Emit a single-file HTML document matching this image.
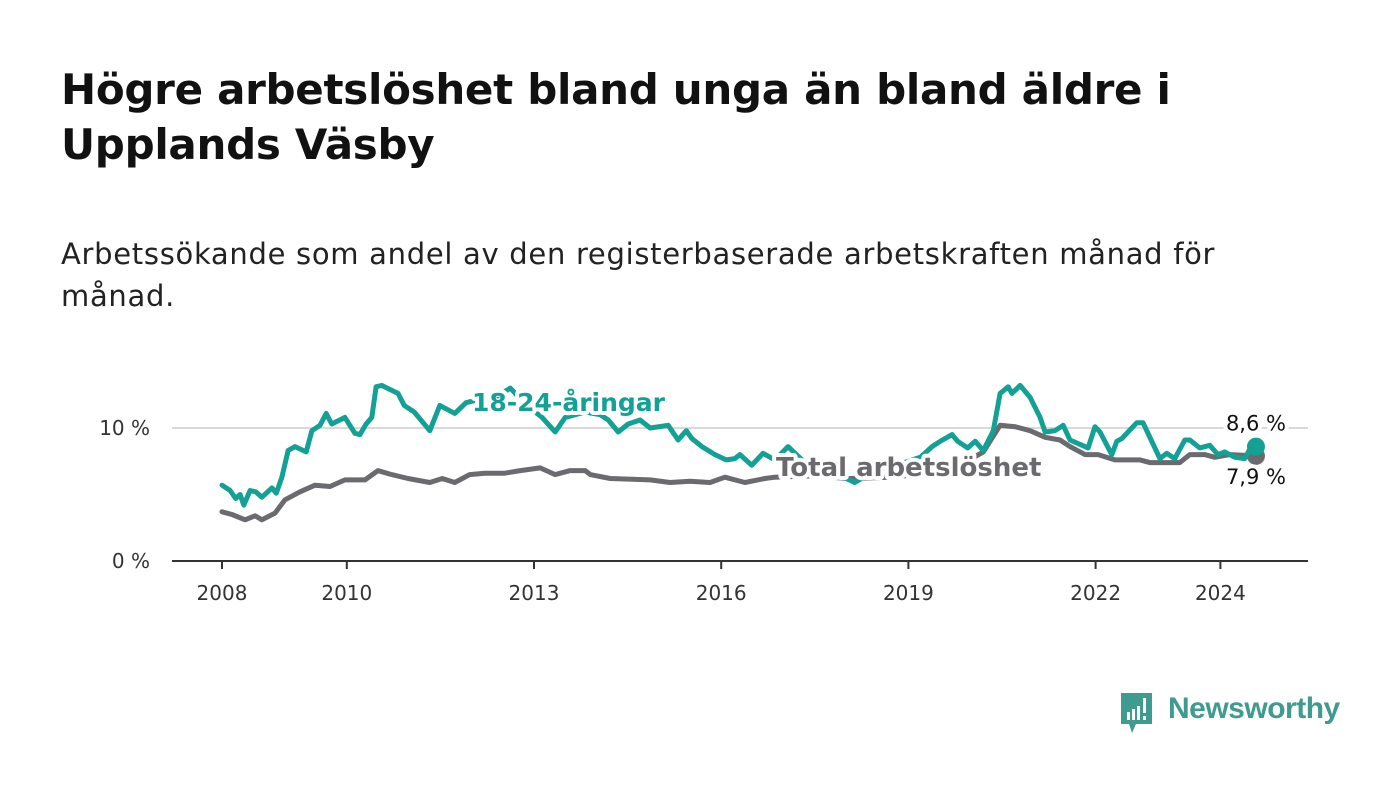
<!DOCTYPE html>
<html><head><meta charset="utf-8">
<style>
body{margin:0;background:#fff;font-family:"DejaVu Sans","Liberation Sans",sans-serif;}
#wrap{position:relative;width:1400px;height:794px;overflow:hidden;}
h1{position:absolute;left:61px;top:62px;margin:0;font-size:42px;line-height:55px;font-weight:bold;color:#111;width:1200px;letter-spacing:-0.3px;}
p.sub{position:absolute;left:61px;top:233px;margin:0;font-size:29px;line-height:42px;color:#222;width:1220px;letter-spacing:0.7px;}
svg{position:absolute;left:0;top:0;}
.lbl{paint-order:stroke;stroke:#fff;stroke-width:8px;stroke-linejoin:round;}
</style></head><body>
<div id="wrap">
<h1>Högre arbetslöshet bland unga än bland äldre i Upplands Väsby</h1>
<p class="sub">Arbetssökande som andel av den registerbaserade arbetskraften månad för månad.</p>
<svg id="chart" width="1400" height="794"></svg>
<div style="position:absolute;left:1119px;top:692px;">
<svg width="36" height="44" style="position:absolute;left:0;top:0">
<path d="M2 1 H33 V32 H17 L13 41 L10 32 H2 Z" fill="#3f9a8f"/>
<rect x="8" y="20" width="3" height="8" fill="#fff"/><rect x="13" y="17" width="3" height="11" fill="#fff"/><rect x="18" y="14" width="3" height="14" fill="#fff"/><rect x="24" y="6" width="3" height="15" fill="#fff"/><rect x="24" y="24" width="3" height="4" fill="#fff"/>
</svg>
<div style="position:absolute;left:49px;top:0px;font-family:'Liberation Sans',sans-serif;font-size:30px;color:#3f9a8f;font-weight:bold;letter-spacing:-0.5px;white-space:nowrap">Newsworthy</div>
</div>
</div>
<script>
const youthYears=[2008.00,2008.13,2008.22,2008.29,2008.35,2008.45,2008.54,2008.64,2008.80,2008.87,2008.96,2009.06,2009.17,2009.35,2009.44,2009.57,2009.67,2009.76,2009.97,2010.13,2010.21,2010.31,2010.40,2010.47,2010.56,2010.82,2010.92,2011.08,2011.33,2011.49,2011.73,2011.91,2012.17,2012.41,2012.62,2012.86,2013.13,2013.34,2013.50,2013.82,2014.06,2014.19,2014.35,2014.51,2014.70,2014.86,2015.15,2015.31,2015.44,2015.53,2015.69,2015.90,2016.08,2016.22,2016.30,2016.49,2016.67,2016.86,2017.07,2017.34,2017.74,2018.14,2018.46,2018.87,2019.19,2019.38,2019.51,2019.70,2019.79,2019.95,2020.07,2020.20,2020.36,2020.47,2020.60,2020.66,2020.79,2020.95,2021.11,2021.19,2021.35,2021.48,2021.59,2021.88,2021.99,2022.07,2022.26,2022.34,2022.42,2022.66,2022.76,2023.03,2023.14,2023.27,2023.43,2023.51,2023.67,2023.83,2023.96,2024.07,2024.23,2024.39,2024.47,2024.57];
const youthValues=[5.7,5.3,4.7,5.0,4.2,5.3,5.2,4.8,5.5,5.1,6.3,8.3,8.6,8.2,9.8,10.2,11.1,10.3,10.8,9.6,9.5,10.3,10.8,13.1,13.2,12.6,11.7,11.2,9.8,11.7,11.1,11.9,12.2,12.4,13.0,11.8,10.8,9.7,10.8,11.2,11.0,10.6,9.7,10.3,10.6,10.0,10.2,9.1,9.8,9.2,8.6,8.0,7.6,7.7,8.0,7.2,8.1,7.6,8.6,7.4,6.8,5.9,6.8,7.3,7.8,8.6,9.0,9.5,9.0,8.5,9.0,8.3,9.8,12.6,13.1,12.6,13.2,12.3,10.8,9.7,9.8,10.2,9.1,8.5,10.1,9.7,8.0,9.0,9.2,10.4,10.4,7.7,8.1,7.7,9.1,9.1,8.5,8.7,8.0,8.2,7.8,7.7,8.4,8.6];
const totalYears=[2008.00,2008.16,2008.37,2008.53,2008.64,2008.85,2009.01,2009.25,2009.49,2009.73,2009.97,2010.29,2010.50,2010.72,2010.98,2011.33,2011.53,2011.73,2011.97,2012.21,2012.53,2012.78,2013.10,2013.34,2013.58,2013.82,2013.90,2014.22,2014.86,2015.18,2015.50,2015.82,2016.06,2016.38,2016.70,2016.86,2017.42,2018.06,2018.71,2019.35,2019.83,2020.20,2020.47,2020.71,2020.95,2021.19,2021.43,2021.59,2021.83,2022.04,2022.31,2022.71,2022.87,2023.35,2023.51,2023.75,2023.91,2024.15,2024.57];
const totalValues=[3.7,3.5,3.1,3.4,3.1,3.6,4.6,5.2,5.7,5.6,6.1,6.1,6.8,6.5,6.2,5.9,6.2,5.9,6.5,6.6,6.6,6.8,7.0,6.5,6.8,6.8,6.5,6.2,6.1,5.9,6.0,5.9,6.3,5.9,6.2,6.3,6.4,6.2,6.3,6.6,7.2,8.2,10.2,10.1,9.8,9.3,9.1,8.6,8.0,8.0,7.6,7.6,7.4,7.4,8.0,8.0,7.8,8.0,7.9];
const xTickYears=[2008,2010,2013,2016,2019,2022,2024];
const yTickValues=[0,10];
const yTickLabels=["0 %","10 %"];

const NS="http://www.w3.org/2000/svg";
const svg=document.getElementById('chart');
const X=y=>222+(y-2008)*62.4;
const Y=v=>561-v*13.3;
function mk(t,a,p){const e=document.createElementNS(NS,t);for(const k in a)e.setAttribute(k,a[k]);(p||svg).appendChild(e);return e;}

yTickValues.forEach((v,i)=>{
  if(v>0){const g=mk('line',{x1:172,x2:1308,y1:Y(v),y2:Y(v),stroke:'#d9d9d9','stroke-width':2});
  
  }
  const t=mk('text',{x:150,y:Y(v)+7,'text-anchor':'end','font-size':20,fill:'#333'});t.textContent=yTickLabels[i];
  
  
});
const ax=mk('line',{x1:172,x2:1308,y1:561,y2:561,stroke:'#333','stroke-width':2});


xTickYears.forEach(yr=>{
  const tk=mk('line',{x1:X(yr),x2:X(yr),y1:561,y2:569,stroke:'#333','stroke-width':2});
  
  
  const t=mk('text',{x:X(yr),y:600,'text-anchor':'middle','font-size':20,fill:'#333'});t.textContent=yr;
  
  
});
function line(xs,vs,c,name){
  const d=xs.map((x,i)=>(i?'L':'M')+X(x).toFixed(1)+' '+Y(vs[i]).toFixed(1)).join(' ');
  const p=mk('path',{d:d,fill:'none',stroke:c,'stroke-width':5,'stroke-linejoin':'round','stroke-linecap':'round'});
  
  
  const n=xs.length-1;
  const c2=mk('circle',{cx:X(xs[n]),cy:Y(vs[n]),r:9,fill:c});
  
  
}
line(totalYears,totalValues,'#6b6a6e','total-line');
line(youthYears,youthValues,'#13a195','youth-line');

function label(x,y,txt,c,sz,w,name,anchor){
  const t=mk('text',{x:x,y:y,'font-size':sz,'font-weight':w,fill:c,'text-anchor':anchor||'start',class:'lbl'});t.textContent=txt;
  
  
}
label(472,411,'18-24-åringar','#13a195',25,'bold','youth-series-label');
label(776,476,'Total arbetslöshet','#6b6a6e',26,'bold','total-series-label');
const nY=youthValues.length-1,nT=totalValues.length-1;
label(X(youthYears[nY]),Y(youthValues[nY])-16,youthValues[nY].toFixed(1).replace('.',',')+' %','#111',21,'normal','youth-end-value','middle');
label(X(totalYears[nT]),Y(totalValues[nT])+28,totalValues[nT].toFixed(1).replace('.',',')+' %','#111',21,'normal','total-end-value','middle');
</script>
</body></html>
